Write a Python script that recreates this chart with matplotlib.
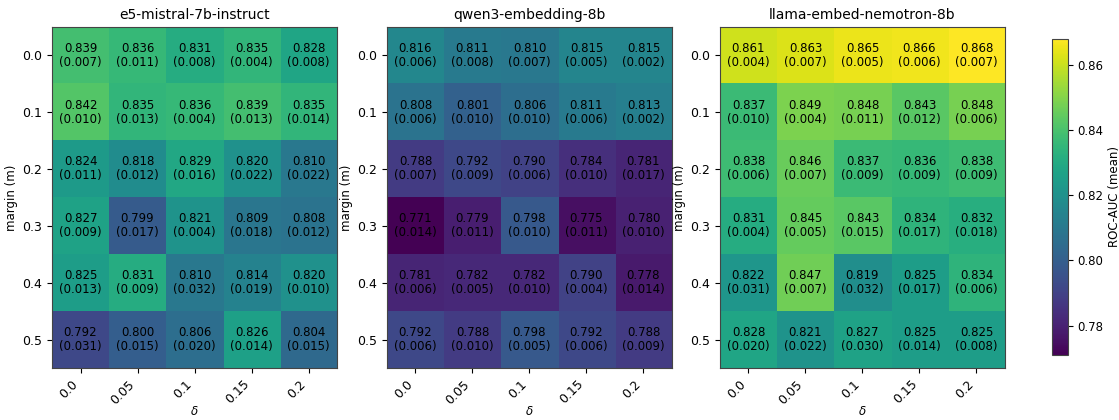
import numpy as np
import matplotlib
matplotlib.use("Agg")
import matplotlib.pyplot as plt

deltas = ['0.0', '0.05', '0.1', '0.15', '0.2']
margins = ['0.0', '0.1', '0.2', '0.3', '0.4', '0.5']
models = ['e5-mistral-7b-instruct', 'qwen3-embedding-8b', 'llama-embed-nemotron-8b']

e5_mean = [[0.839, 0.836, 0.831, 0.835, 0.828],
           [0.842, 0.835, 0.836, 0.839, 0.835],
           [0.824, 0.818, 0.829, 0.820, 0.810],
           [0.827, 0.799, 0.821, 0.809, 0.808],
           [0.825, 0.831, 0.810, 0.814, 0.820],
           [0.792, 0.800, 0.806, 0.826, 0.804]]
e5_std = [[0.007, 0.011, 0.008, 0.004, 0.008],
          [0.010, 0.013, 0.004, 0.013, 0.014],
          [0.011, 0.012, 0.016, 0.022, 0.022],
          [0.009, 0.017, 0.004, 0.018, 0.012],
          [0.013, 0.009, 0.032, 0.019, 0.010],
          [0.031, 0.015, 0.020, 0.014, 0.015]]

qwen_mean = [[0.816, 0.811, 0.810, 0.815, 0.815],
             [0.808, 0.801, 0.806, 0.811, 0.813],
             [0.788, 0.792, 0.790, 0.784, 0.781],
             [0.771, 0.779, 0.798, 0.775, 0.780],
             [0.781, 0.782, 0.782, 0.790, 0.778],
             [0.792, 0.788, 0.798, 0.792, 0.788]]
qwen_std = [[0.006, 0.008, 0.007, 0.005, 0.002],
            [0.006, 0.010, 0.010, 0.006, 0.002],
            [0.007, 0.009, 0.006, 0.010, 0.017],
            [0.014, 0.011, 0.010, 0.011, 0.010],
            [0.006, 0.005, 0.010, 0.004, 0.014],
            [0.006, 0.010, 0.005, 0.006, 0.009]]

llama_mean = [[0.861, 0.863, 0.865, 0.866, 0.868],
              [0.837, 0.849, 0.848, 0.843, 0.848],
              [0.838, 0.846, 0.837, 0.836, 0.838],
              [0.831, 0.845, 0.843, 0.834, 0.832],
              [0.822, 0.847, 0.819, 0.825, 0.834],
              [0.828, 0.821, 0.827, 0.825, 0.825]]
llama_std = [[0.004, 0.007, 0.005, 0.006, 0.007],
             [0.010, 0.004, 0.011, 0.012, 0.006],
             [0.006, 0.007, 0.009, 0.009, 0.009],
             [0.004, 0.005, 0.015, 0.017, 0.018],
             [0.031, 0.007, 0.032, 0.017, 0.006],
             [0.020, 0.022, 0.030, 0.014, 0.008]]

means = [np.array(e5_mean), np.array(qwen_mean), np.array(llama_mean)]
stds = [np.array(e5_std), np.array(qwen_std), np.array(llama_std)]
vmin = min(m.min() for m in means)
vmax = max(m.max() for m in means)

fig = plt.figure(figsize=(11.19, 4.2), dpi=100)
lefts = [0.0465, 0.3458, 0.6434]
axes = [fig.add_axes([l, 0.124, 0.2547, 0.812]) for l in lefts]

for ax, name, m, s in zip(axes, models, means, stds):
    im = ax.imshow(m, cmap='viridis', vmin=vmin, vmax=vmax, aspect='auto')
    for i in range(m.shape[0]):
        for j in range(m.shape[1]):
            ax.text(j, i, f"{m[i, j]:.3f}\n({s[i, j]:.3f})", ha='center', va='center',
                    fontsize=8.5, color='black', linespacing=1.1)
    ax.set_xticks(range(len(deltas)))
    ax.set_xticklabels(deltas, rotation=45, ha='right', fontsize=9)
    ax.set_yticks(range(len(margins)))
    ax.set_yticklabels(margins, fontsize=9)
    ax.set_xlabel(r'$\delta$', fontsize=8.5, labelpad=-1)
    ax.set_ylabel('margin (m)', fontsize=8.5, labelpad=3)
    ax.set_title(name, fontsize=10)
    for sp in ax.spines.values():
        sp.set_edgecolor('#444444')

cax = fig.add_axes([0.940, 0.155, 0.0143, 0.752])
cb = fig.colorbar(im, cax=cax)
cb.set_label('ROC-AUC (mean)', fontsize=8.5, labelpad=3)
cb.ax.tick_params(labelsize=8.5)
cb.outline.set_edgecolor('#444444')

fig.savefig('out.png', dpi=100)
